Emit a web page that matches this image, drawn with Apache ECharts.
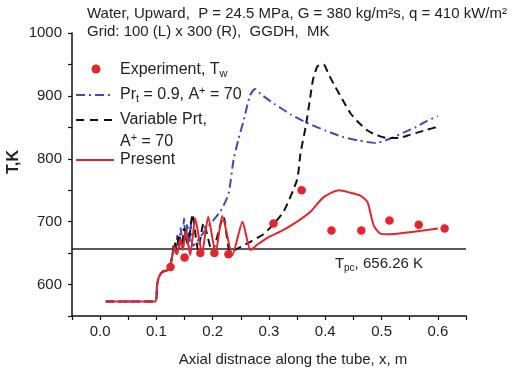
<!DOCTYPE html>
<html>
<head>
<meta charset="utf-8">
<script src="https://cdn.jsdelivr.net/npm/echarts@6/dist/echarts.min.js"></script>
<style>
  html, body { margin: 0; padding: 0; background: #fff; }
  #chart { width: 521px; height: 372px; }
</style>
</head>
<body>
<div id="chart"></div>
<script>
// Wall temperature along the heated tube: experiment and three turbulence models.
const expX = [0.125, 0.15, 0.178, 0.203, 0.228, 0.308, 0.358, 0.411, 0.464, 0.514, 0.566, 0.612];
const expT = [628, 643, 650, 650, 648, 697, 750, 686, 686, 702, 695, 689];

const constPrtX = [0.01, 0.098, 0.101, 0.104, 0.11, 0.12, 0.125, 0.128, 0.131, 0.134, 0.137, 0.14, 0.143, 0.146, 0.149, 0.152, 0.155, 0.158, 0.161, 0.165, 0.19, 0.214, 0.228, 0.237, 0.246, 0.255, 0.266, 0.275, 0.285, 0.31, 0.34, 0.37, 0.4, 0.43, 0.46, 0.49, 0.515, 0.54, 0.56, 0.58, 0.6];
const constPrtT = [573, 573, 598, 611, 620, 623, 632, 645, 662, 650, 678, 656, 690, 664, 705, 668, 697, 660, 700, 662, 690, 717, 744, 798, 832, 861, 900, 911, 903, 887, 870, 856, 845, 835, 829, 825, 832, 842, 850, 860, 868];

const varPrtX = [0.01, 0.098, 0.101, 0.104, 0.11, 0.12, 0.125, 0.128, 0.132, 0.136, 0.14, 0.145, 0.15, 0.155, 0.16, 0.164, 0.174, 0.184, 0.199, 0.219, 0.231, 0.25, 0.267, 0.29, 0.306, 0.326, 0.35, 0.356, 0.365, 0.372, 0.378, 0.386, 0.397, 0.405, 0.415, 0.43, 0.445, 0.46, 0.475, 0.49, 0.51, 0.53, 0.55, 0.565, 0.58, 0.6];
const varPrtT = [573, 573, 598, 611, 620, 623, 632, 645, 668, 655, 680, 660, 690, 665, 685, 712, 655, 698, 652, 708, 652, 660, 668, 680, 694, 716, 767, 809, 850, 890, 925, 947, 950, 936, 919, 895, 872, 857, 845, 838, 833, 833, 838, 842, 846, 851];

const presentX = [0.01, 0.098, 0.101, 0.104, 0.11, 0.12, 0.125, 0.128, 0.132, 0.137, 0.142, 0.147, 0.152, 0.16, 0.169, 0.181, 0.192, 0.205, 0.217, 0.235, 0.253, 0.267, 0.28, 0.3, 0.32, 0.35, 0.374, 0.397, 0.424, 0.445, 0.463, 0.475, 0.486, 0.498, 0.516, 0.557, 0.6];
const presentT = [573, 573, 598, 611, 620, 623, 632, 645, 660, 648, 672, 655, 685, 647, 705, 650, 708, 650, 709, 647, 700, 655, 664, 676, 684, 700, 716, 739, 750, 746, 741, 731, 694, 681, 680, 684, 689];

const pseudoCriticalT = 656.26;

const titleLines = [
  'Water, Upward,  P = 24.5 MPa, G = 380 kg/m\u00B2s, q = 410 kW/m\u00B2',
  'Grid: 100 (L) x 300 (R),  GGDH,  MK'
];
const xAxisTitle = 'Axial distnace along the tube, x, m';
const yAxisTitle = 'T,K';

const RED = '#e3262b';
const BLUE = '#3b4db6';
const BLACK = '#111111';
const TEXT = '#222222';
const FONT = 'Liberation Sans, Arial, sans-serif';

const pairs = (xs, ys) => xs.map((x, i) => [x, ys[i]]);

// rich-text styles for sub/superscripts
const richBase = {
  a: { fontSize: 16, fontFamily: FONT, lineHeight: 18, fill: TEXT, verticalAlign: 'middle' },
  sub: { fontSize: 11, fontFamily: FONT, lineHeight: 10, padding: [8, 0, 0, 0], fill: TEXT, verticalAlign: 'middle' },
  sup: { fontSize: 11, fontFamily: FONT, lineHeight: 10, padding: [0, 0, 8, 0], fill: TEXT, verticalAlign: 'middle' }
};
const legendText = (x, y, text) => ({
  type: 'text', x: x, y: y,
  style: { text: text, rich: richBase, verticalAlign: 'middle', align: 'left', fill: TEXT, font: '16px ' + FONT }
});

const chart = echarts.init(document.getElementById('chart'), null, { renderer: 'canvas' });

chart.setOption({
  animation: false,
  backgroundColor: '#ffffff',
  title: {
    text: titleLines.join('\n'),
    left: 87, top: 5, padding: 0,
    textStyle: { fontSize: 15, fontWeight: 'normal', color: TEXT, fontFamily: FONT, lineHeight: 18 }
  },
  grid: { left: 72, right: 55, top: 33, bottom: 51 },
  xAxis: {
    type: 'value', min: -0.05, max: 0.65, interval: 0.05,
    name: xAxisTitle, nameLocation: 'middle', nameGap: 36,
    nameTextStyle: { fontSize: 15, color: TEXT, fontFamily: FONT, padding: [0, 0, 0, 48] },
    axisLine: { onZero: false, lineStyle: { color: BLACK, width: 1.5 } },
    axisTick: { length: 4, lineStyle: { color: BLACK, width: 1.2 } },
    axisLabel: {
      fontSize: 15, color: TEXT, fontFamily: FONT, margin: 8,
      formatter: v => {
        const k = Math.round(v * 100);
        return (k % 10 === 0 && k >= 0 && k <= 60) ? (k / 100).toFixed(1) : '';
      }
    },
    splitLine: { show: false }
  },
  yAxis: {
    type: 'value', min: 550, max: 1000, interval: 50,
    axisLine: { show: true, onZero: false, lineStyle: { color: BLACK, width: 1.5 } },
    axisTick: { show: true, length: 4, lineStyle: { color: BLACK, width: 1.2 } },
    axisLabel: {
      fontSize: 15, color: TEXT, fontFamily: FONT, margin: 10,
      formatter: v => (v % 100 === 0 ? String(v) : '')
    },
    splitLine: { show: false }
  },
  series: [
    {
      name: 'Pr_t = 0.9, A+ = 70', type: 'line', data: pairs(constPrtX, constPrtT),
      showSymbol: false, z: 3, smooth: 0.2,
      lineStyle: { color: BLUE, width: 2, type: [9, 4, 2, 4] }
    },
    {
      name: 'Variable Prt, A+ = 70', type: 'line', data: pairs(varPrtX, varPrtT),
      showSymbol: false, z: 4, smooth: 0.2,
      lineStyle: { color: BLACK, width: 2, type: [8, 5] }
    },
    {
      name: 'Present', type: 'line', data: pairs(presentX, presentT),
      showSymbol: false, z: 5, smooth: 0.2,
      lineStyle: { color: RED, width: 2 },
      markLine: {
        silent: true, symbol: 'none',
        lineStyle: { color: '#222', width: 1.5, type: 'solid' },
        label: {
          position: 'insideEndBottom', distance: [43, 6],
          formatter: p => '{a|T}{sub|pc}{a|, ' + p.value + ' K}',
          rich: {
            a: { fontSize: 15, fontFamily: FONT, lineHeight: 18, color: TEXT },
            sub: { fontSize: 10, fontFamily: FONT, lineHeight: 10, padding: [8, 0, 0, 0], color: TEXT }
          }
        },
        data: [{ yAxis: pseudoCriticalT }]
      }
    },
    {
      name: 'Experiment, Tw', type: 'scatter', data: pairs(expX, expT),
      symbol: 'circle', symbolSize: 8.5, z: 6,
      itemStyle: { color: RED, opacity: 1 }
    }
  ],
  graphic: [
    { type: 'text', x: 14, y: 162, rotation: Math.PI / 2,
      style: { text: yAxisTitle, font: 'bold 16px ' + FONT, fill: TEXT, align: 'center', verticalAlign: 'middle' } },
    { type: 'circle', shape: { cx: 96, cy: 69, r: 4.5 }, style: { fill: RED } },
    legendText(120, 70, '{a|Experiment, T}{sub|w}'),
    { type: 'line', shape: { x1: 76, y1: 95, x2: 114, y2: 95 }, style: { stroke: BLUE, lineWidth: 2, lineDash: [9, 4, 2, 4] } },
    legendText(120, 95, '{a|Pr}{sub|t}{a| = 0.9, A}{sup|+}{a| = 70}'),
    { type: 'line', shape: { x1: 76, y1: 120, x2: 114, y2: 120 }, style: { stroke: BLACK, lineWidth: 2, lineDash: [8, 6] } },
    legendText(120, 120, '{a|Variable Prt,}'),
    legendText(120, 142, '{a|A}{sup|+}{a| = 70}'),
    { type: 'line', shape: { x1: 76, y1: 160, x2: 114, y2: 160 }, style: { stroke: RED, lineWidth: 2 } },
    legendText(120, 160, '{a|Present}')
  ]
});
</script>
</body>
</html>
